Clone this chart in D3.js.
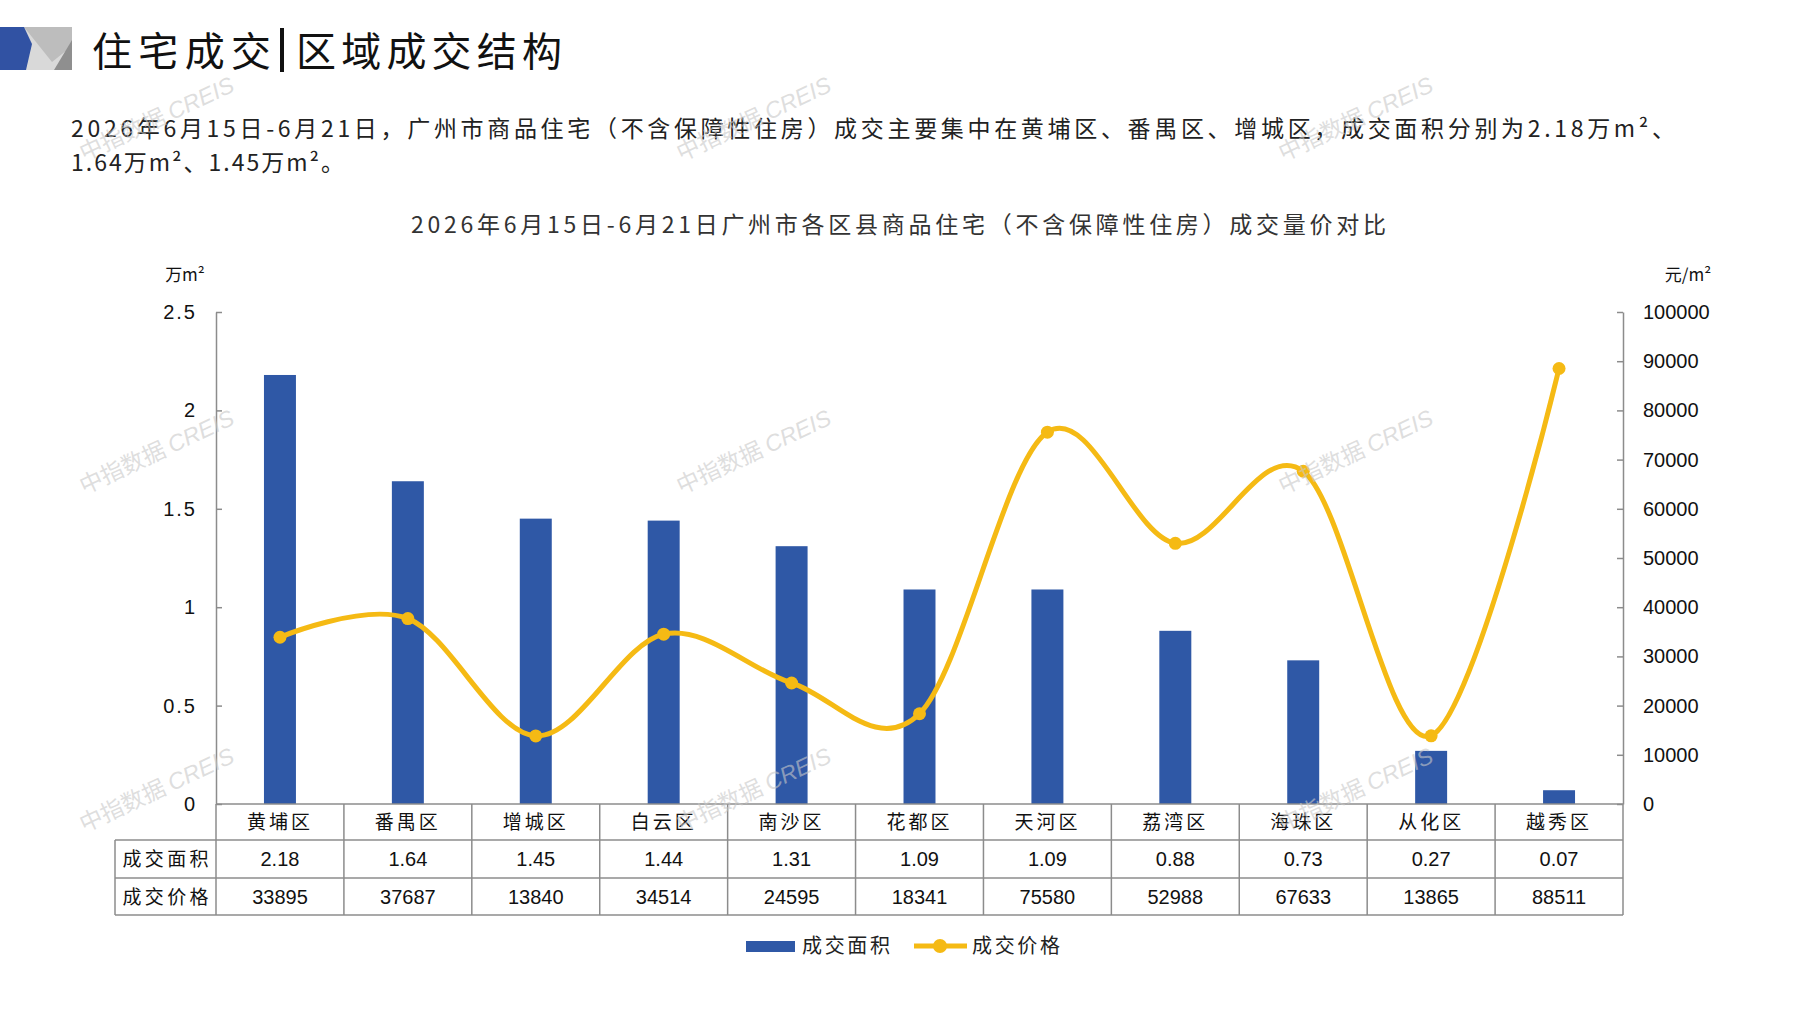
<!DOCTYPE html>
<html>
<head>
<meta charset="utf-8">
<script src="https://cdn.jsdelivr.net/npm/d3@7"></script>
<style>
  body { margin: 0; background: #fff; }
  svg { display: block; }
  .cn { font-family: "Noto Sans CJK SC", "Noto Sans", sans-serif; }
  .num { font-family: "Liberation Sans", Arial, sans-serif; }
</style>
</head>
<body>
<div id="chart"></div>
<script>
// district names
var districts = ["黄埔区", "番禺区", "增城区", "白云区", "南沙区", "花都区", "天河区", "荔湾区", "海珠区", "从化区", "越秀区"];
// 成交面积 (万m²)
var areaValues = [2.18, 1.64, 1.45, 1.44, 1.31, 1.09, 1.09, 0.88, 0.73, 0.27, 0.07];
// 成交价格 (元/m²)
var priceValues = [33895, 37687, 13840, 34514, 24595, 18341, 75580, 52988, 67633, 13865, 88511];
var leftTicks = [0, 0.5, 1, 1.5, 2, 2.5];
var rightTicks = [0, 10000, 20000, 30000, 40000, 50000, 60000, 70000, 80000, 90000, 100000];
var rowNames = ["成交面积", "成交价格"];

var svgWidth = 1797;
var svgHeight = 1010;

var blue = "#2f58a6";
var gold = "#f5ba14";
var gridGray = "#8c8c8c";

var svg = d3.select("#chart")
  .append("svg")
  .attr("width", svgWidth)
  .attr("height", svgHeight);

// plot area
var plotLeft = 216, plotRight = 1623, plotTop = 312, plotBottom = 804;
var rowH = [36, 38, 37];

// header logo
svg.append("rect").attr("x", 20).attr("y", 27).attr("width", 52).attr("height", 43).attr("fill", "#d9d9d9");
svg.append("polygon").attr("points", "24,27 72,27 72,46 52,62").attr("fill", "#bdbdbd");
svg.append("polygon").attr("points", "72,40 72,70 54,70").attr("fill", "#8f8f8f");
svg.append("polygon").attr("points", "0,27 24,27 32,44 26,70 0,70").attr("fill", "#3152a3");

// page title
svg.append("text").attr("class", "cn")
  .attr("x", 92).attr("y", 66)
  .attr("font-size", 40).attr("textLength", 179).attr("lengthAdjust", "spacing")
  .attr("fill", "#111")
  .text("住宅成交");
svg.append("rect").attr("x", 280).attr("y", 28).attr("width", 4).attr("height", 44).attr("fill", "#111");
svg.append("text").attr("class", "cn")
  .attr("x", 296).attr("y", 66)
  .attr("font-size", 40).attr("textLength", 266).attr("lengthAdjust", "spacing")
  .attr("fill", "#111")
  .text("区域成交结构");

// summary paragraph
svg.append("text").attr("class", "cn")
  .attr("x", 71).attr("y", 137)
  .attr("font-size", 23).attr("textLength", 1604).attr("lengthAdjust", "spacing")
  .attr("fill", "#222")
  .text("2026年6月15日-6月21日，广州市商品住宅（不含保障性住房）成交主要集中在黄埔区、番禺区、增城区，成交面积分别为2.18万m²、");
svg.append("text").attr("class", "cn")
  .attr("x", 71).attr("y", 171)
  .attr("font-size", 23).attr("textLength", 273).attr("lengthAdjust", "spacing")
  .attr("fill", "#222")
  .text("1.64万m²、1.45万m²。");

// chart title
svg.append("text").attr("class", "cn")
  .attr("x", 411).attr("y", 233)
  .attr("font-size", 23).attr("textLength", 975).attr("lengthAdjust", "spacing")
  .attr("fill", "#333")
  .text("2026年6月15日-6月21日广州市各区县商品住宅（不含保障性住房）成交量价对比");

// scales
var x = d3.scaleBand().domain(districts).range([plotLeft, plotRight]).padding(0);
var yLeft = d3.scaleLinear().domain([0, 2.5]).range([plotBottom, plotTop]);
var yRight = d3.scaleLinear().domain([0, 100000]).range([plotBottom, plotTop]);

// unit labels
svg.append("text").attr("class", "cn")
  .attr("x", 185).attr("y", 281).attr("text-anchor", "middle")
  .attr("font-size", 17).attr("fill", "#111")
  .text("万m²");
svg.append("text").attr("class", "cn")
  .attr("x", 1688).attr("y", 281).attr("text-anchor", "middle")
  .attr("font-size", 17).attr("fill", "#111")
  .text("元/m²");

// axes
var leftAxis = d3.axisLeft(yLeft).tickValues(leftTicks).tickSizeInner(-6).tickSizeOuter(0).tickPadding(19)
  .tickFormat(d3.format(""));
var rightAxis = d3.axisRight(yRight).tickValues(rightTicks).tickSizeInner(-6).tickSizeOuter(0).tickPadding(20)
  .tickFormat(d3.format("d"));

var gL = svg.append("g").attr("transform", `translate(${plotLeft},0)`).call(leftAxis);
var gR = svg.append("g").attr("transform", `translate(${plotRight},0)`).call(rightAxis);
[gL, gR].forEach(g => {
  g.select(".domain").attr("stroke", gridGray).attr("stroke-width", 1.5);
  g.selectAll(".tick line").attr("stroke", gridGray).attr("stroke-width", 1.5);
  g.selectAll(".tick text").attr("class", "num").attr("font-size", 20).attr("fill", "#111");
});
gL.selectAll(".tick text").attr("letter-spacing", 2);

// bars
var barW = x.bandwidth() * 0.25;
svg.append("g").selectAll("rect")
  .data(areaValues)
  .enter()
  .append("rect")
  .attr("x", (d, i) => x(districts[i]) + x.bandwidth() / 2 - barW / 2)
  .attr("y", d => yLeft(d))
  .attr("width", barW)
  .attr("height", d => yLeft(0) - yLeft(d))
  .attr("fill", blue);

// price line (smoothed)
var line = d3.line()
  .x((d, i) => x(districts[i]) + x.bandwidth() / 2)
  .y(d => yRight(d))
  .curve(d3.curveCatmullRom.alpha(0));

svg.append("path")
  .datum(priceValues)
  .attr("d", line)
  .attr("fill", "none")
  .attr("stroke", gold)
  .attr("stroke-width", 5);

svg.append("g").selectAll("circle")
  .data(priceValues)
  .enter()
  .append("circle")
  .attr("cx", (d, i) => x(districts[i]) + x.bandwidth() / 2)
  .attr("cy", d => yRight(d))
  .attr("r", 6.5)
  .attr("fill", gold);

// data table
var tableLeft = 115;
var y0 = plotBottom, y1 = plotBottom + rowH[0], y2 = y1 + rowH[1], y3 = y2 + rowH[2];
var tbl = svg.append("g").attr("stroke", gridGray).attr("stroke-width", 1.5);
tbl.append("line").attr("x1", plotLeft).attr("x2", plotRight).attr("y1", y0).attr("y2", y0);
[y1, y2, y3].forEach(yy => {
  tbl.append("line").attr("x1", tableLeft).attr("x2", plotRight).attr("y1", yy).attr("y2", yy);
});
tbl.append("line").attr("x1", tableLeft).attr("x2", tableLeft).attr("y1", y1).attr("y2", y3);
districts.concat(["_end"]).forEach((d, i) => {
  var xx = i < districts.length ? x(d) : plotRight;
  tbl.append("line").attr("x1", xx).attr("x2", xx).attr("y1", y0).attr("y2", y3);
});

// category labels
svg.append("g").selectAll("text")
  .data(districts)
  .enter()
  .append("text")
  .attr("class", "cn")
  .attr("x", d => x(d) + x.bandwidth() / 2)
  .attr("y", (y0 + y1) / 2 + 7)
  .attr("text-anchor", "middle")
  .attr("font-size", 19)
  .attr("letter-spacing", 3)
  .attr("fill", "#111")
  .text(d => d);

// row headers
svg.append("g").selectAll("text")
  .data(rowNames)
  .enter()
  .append("text")
  .attr("class", "cn")
  .attr("x", (tableLeft + plotLeft) / 2)
  .attr("y", (d, i) => (i === 0 ? (y1 + y2) / 2 : (y2 + y3) / 2) + 7)
  .attr("text-anchor", "middle")
  .attr("font-size", 19)
  .attr("textLength", 86)
  .attr("lengthAdjust", "spacing")
  .attr("fill", "#111")
  .text(d => d);

// row values
svg.append("g").selectAll("text")
  .data(areaValues)
  .enter()
  .append("text")
  .attr("class", "num")
  .attr("x", (d, i) => x(districts[i]) + x.bandwidth() / 2)
  .attr("y", (y1 + y2) / 2 + 7)
  .attr("text-anchor", "middle")
  .attr("font-size", 20)
  .attr("fill", "#111")
  .text(d => d.toFixed(2));

svg.append("g").selectAll("text")
  .data(priceValues)
  .enter()
  .append("text")
  .attr("class", "num")
  .attr("x", (d, i) => x(districts[i]) + x.bandwidth() / 2)
  .attr("y", (y2 + y3) / 2 + 7)
  .attr("text-anchor", "middle")
  .attr("font-size", 20)
  .attr("fill", "#111")
  .text(d => d);

// legend
var lg = svg.append("g");
lg.append("rect").attr("x", 746).attr("y", 941).attr("width", 49).attr("height", 11).attr("fill", blue);
lg.append("text").attr("class", "cn").attr("x", 802).attr("y", 953)
  .attr("font-size", 20).attr("textLength", 88).attr("lengthAdjust", "spacing").attr("fill", "#222")
  .text(rowNames[0]);
lg.append("line").attr("x1", 914).attr("x2", 967).attr("y1", 946).attr("y2", 946)
  .attr("stroke", gold).attr("stroke-width", 5);
lg.append("circle").attr("cx", 940).attr("cy", 946).attr("r", 7).attr("fill", gold);
lg.append("text").attr("class", "cn").attr("x", 972).attr("y", 953)
  .attr("font-size", 20).attr("textLength", 88).attr("lengthAdjust", "spacing").attr("fill", "#222")
  .text(rowNames[1]);

// watermarks
var wmX = [160, 757, 1359];
var wmY = [126, 459, 797];
var wm = svg.append("g").attr("pointer-events", "none");
wmY.forEach(wy => {
  wmX.forEach(wx => {
    var t = wm.append("text")
      .attr("transform", `translate(${wx},${wy}) rotate(-25)`)
      .attr("text-anchor", "middle")
      .attr("font-size", 23)
      .attr("fill", "#c8c8c8")
      .attr("fill-opacity", 0.6);
    t.append("tspan").attr("class", "cn").text("中指数据 ");
    t.append("tspan").attr("class", "num").attr("font-style", "italic").text("CREIS");
  });
});
</script>
</body>
</html>
